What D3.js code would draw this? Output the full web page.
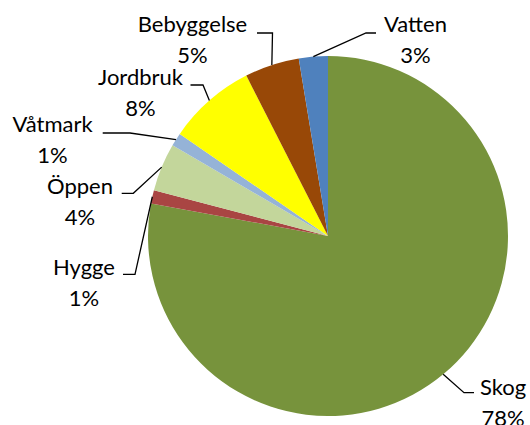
<!DOCTYPE html>
<html>
<head>
<meta charset="utf-8">
<script src="https://cdnjs.cloudflare.com/ajax/libs/d3/7.8.5/d3.min.js"></script>
<style>
  html, body { margin: 0; padding: 0; background: #fff; }
  #chart { width: 530px; height: 425px; }
  text { font-family: Lato, "Open Sans", sans-serif; fill: #000; }
</style>
</head>
<body>
<div id="chart"></div>
<script>
const categories = ["Skog", "Hygge", "Öppen", "Våtmark", "Jordbruk", "Bebyggelse", "Vatten"],
  shares = [77.9, 1.2, 4.3, 1.2, 7.9, 4.9, 2.6],
  colors = ["#77933C", "#A94543", "#C3D69B", "#95B3D7", "#FFFF00", "#984807", "#4F81BD"];

// label placement (centre x, first baseline y) and the horizontal bit of the leader [x1, x2, y]
const labelLayout = [
  { x: 503, y: 395, lead: [474, 464, 392.7] },
  { x: 84, y: 275, lead: [123, 135, 274.3] },
  { x: 80, y: 194.3, lead: [121.7, 133.3, 193.3] },
  { x: 52.5, y: 131.7, lead: [102.7, 130, 133] },
  { x: 140.5, y: 85, lead: [190.5, 203, 85] },
  { x: 192.5, y: 31.7, lead: [257, 272.5, 33] },
  { x: 415.5, y: 31.7, lead: [376, 366, 33] }
];

const WIDTH = 530,
  HEIGHT = 425,
  cx = 328,
  cy = 236,
  radius = 180,
  lineGap = 31;

const svg = d3.select("#chart").append("svg")
  .attr("width", WIDTH)
  .attr("height", HEIGHT);

const g = svg.append("g").attr("transform", `translate(${cx},${cy})`);

const pie = d3.pie().sort(null).value(d => d.value),
  arc = d3.arc().innerRadius(0).outerRadius(radius),
  edge = d3.arc().innerRadius(radius).outerRadius(radius);

const slices = pie(categories.map((c, i) => ({ name: c, value: shares[i], color: colors[i] })));

g.selectAll("path.slice")
  .data(slices)
  .enter()
  .append("path")
  .attr("class", "slice")
  .attr("d", arc)
  .attr("fill", d => d.data.color);

// leader lines
svg.append("g")
  .selectAll("polyline")
  .data(slices)
  .enter()
  .append("polyline")
  .attr("points", (d, i) => {
    const L = labelLayout[i].lead,
      mid = (d.startAngle + d.endAngle) / 2,
      px = cx + radius * Math.sin(mid),
      py = cy - radius * Math.cos(mid);
    return [[L[0], L[2]], [L[1], L[2]], [px, py]].join(" ");
  })
  .attr("fill", "none")
  .attr("stroke", "#000")
  .attr("stroke-width", 1.3);

// labels
const labels = svg.append("g")
  .selectAll("text")
  .data(slices)
  .enter()
  .append("text")
  .attr("text-anchor", "middle")
  .attr("font-size", 22)
  .attr("transform", (d, i) => `translate(${labelLayout[i].x},${labelLayout[i].y})`);

labels.append("tspan")
  .attr("x", 0)
  .attr("y", 0)
  .text(d => d.data.name);

labels.append("tspan")
  .attr("x", 0)
  .attr("y", lineGap)
  .text(d => Math.round(d.data.value) + "%");
</script>
</body>
</html>
